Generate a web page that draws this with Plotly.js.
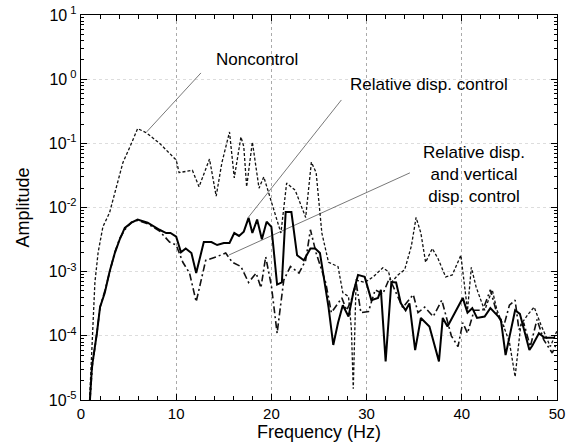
<!DOCTYPE html>
<html>
<head>
<meta charset="utf-8">
<script src="https://cdn.plot.ly/plotly-3.0.1.min.js"></script>
<style>html,body{margin:0;padding:0;background:#fff;}#chart{width:566px;height:443px;}</style>
</head>
<body>
<div id="chart"></div>
<script>
// Noncontrol (dotted)
const nonFreq = [0.9,1.25,1.46,1.8,2.3,3.0,3.7,4.4,5.3,5.95,6.9,8.25,10.0,10.3,11.7,12.4,13.5,14.2,14.8,15.6,16.1,16.8,17.1,17.4,18.0,18.7,19.2,20.3,21.0,21.6,22.5,23.6,24.2,24.7,25.3,26.0,27.0,27.5,28.1,28.4,28.6,28.9,29.8,30.7,31.7,32.3,32.6,33.3,34.0,34.7,35.2,35.7,36.2,36.9,37.5,38.3,39.0,39.9,40.3,40.6,41.0,41.5,42.0,42.4,43.2,43.7,44.4,45.0,45.6,46.2,47.0,47.6,48.3,49.3,50.0];
const nonAmp  = [1e-5,1.8e-4,6.8e-4,2.0e-3,5.0e-3,8.3e-3,2.1e-2,5.0e-2,0.10,0.17,0.145,0.10,0.055,0.035,0.038,0.021,0.057,0.015,0.05,0.15,0.029,0.126,0.089,0.021,0.105,0.02,0.03,0.009,0.004,0.024,0.0186,0.007,0.051,0.035,0.004,0.0014,0.0012,4.7e-4,4.1e-4,1.3e-4,1.5e-5,7.4e-4,6.8e-4,8.3e-4,1.15e-3,1.0e-3,6.8e-4,8.9e-4,1.07e-3,2.5e-3,7.0e-3,4.0e-3,1.4e-3,2.3e-3,1.6e-3,8.3e-4,8.9e-4,1.8e-3,5.2e-4,2.5e-4,1.17e-3,5.8e-4,3.6e-4,2.5e-4,5.2e-4,2.5e-4,1.4e-4,8e-5,2.3e-5,1.5e-4,2.2e-4,2.8e-4,1.5e-4,6.8e-5,1.2e-4];

// Relative disp. control (solid)
const relFreq = [0.94,1.15,1.67,2.0,2.5,3.0,3.55,4.07,4.6,5.3,5.95,7.0,8.25,8.95,9.4,10.0,10.5,11.0,11.6,12.1,12.9,13.7,14.3,15.0,15.6,16.1,16.6,17.1,17.6,18.0,18.5,19.0,19.5,20.0,20.6,21.1,21.5,22.1,22.7,23.4,24.1,24.6,25.1,26.0,26.5,27.0,27.5,28.1,28.6,29.1,29.8,30.5,31.2,31.5,32.0,32.6,33.1,33.6,34.1,34.5,35.1,35.7,36.6,37.6,38.0,38.5,40.1,40.6,41.1,41.6,42.4,43.0,43.7,44.1,44.6,45.1,45.6,46.1,47.1,47.4,48.1,48.7,49.8];
const relAmp  = [1e-5,3.3e-5,1.1e-4,2.8e-4,4.7e-4,1.0e-3,1.95e-3,3.2e-3,4.8e-3,5.8e-3,6.5e-3,5.8e-3,4.5e-3,4.0e-3,4.0e-3,3.5e-3,2.0e-3,2.3e-3,1.95e-3,9.5e-4,2.9e-3,2.9e-3,2.6e-3,2.8e-3,2.8e-3,4.0e-3,3.6e-3,4.2e-3,6.9e-3,4.0e-3,6.5e-3,3.2e-3,6.0e-3,5.0e-3,6.3e-4,6.8e-4,8.5e-3,8.5e-3,1.8e-3,1.5e-3,2.3e-3,2.3e-3,1.95e-3,2.8e-4,7.2e-5,1.6e-4,3.0e-4,2.0e-4,4.7e-4,8.9e-4,8.3e-4,3.6e-4,3.9e-4,5.2e-4,4.0e-5,6.9e-4,6.8e-4,3.2e-4,2.5e-4,3.2e-4,6.0e-5,1.9e-4,1.4e-4,4.0e-5,1.9e-4,1.4e-4,3.9e-4,2.3e-4,2.7e-4,1.9e-4,2.0e-4,2.7e-4,2.1e-4,1.8e-4,5.0e-5,1.15e-4,2.5e-4,2.2e-4,6.0e-5,7e-5,1.1e-4,9.3e-5,9.3e-5];

// Relative disp. and vertical disp. control (dash-dot)
const vertFreq = [0.94,1.2,1.67,2.0,2.5,3.0,3.55,4.07,4.6,5.3,5.95,7.0,8.25,9.3,10.0,10.7,11.4,12.1,12.7,13.1,14.2,15.2,15.9,16.8,17.6,18.4,18.9,19.4,20.0,20.6,21.3,22.0,22.9,23.6,24.1,24.7,25.7,26.3,27.4,27.9,28.4,28.9,29.4,30.2,30.9,31.7,32.4,33.1,33.8,34.9,35.4,36.1,37.0,37.9,38.9,39.6,40.1,40.6,41.3,42.2,43.0,43.7,44.4,45.0,45.6,46.0,46.5,47.2,47.9,48.6,49.5,50.0];
const vertAmp  = [1e-5,3.5e-5,1.1e-4,2.8e-4,5e-4,1.0e-3,2.0e-3,3.3e-3,4.5e-3,5.9e-3,6.3e-3,5.6e-3,4.3e-3,2.9e-3,2.6e-3,1.4e-3,9.5e-4,3.4e-4,8.3e-4,1.5e-3,1.7e-3,1.95e-3,1.4e-3,1.2e-3,6.8e-4,9.5e-4,5.6e-4,1.7e-3,6e-4,1.1e-4,7.4e-4,1.2e-3,9.5e-4,1.5e-3,4.5e-3,1.95e-3,6.8e-4,2.3e-4,3.9e-4,2.5e-4,3.6e-4,6.8e-4,2.3e-4,2.4e-4,5.2e-4,4.5e-4,7.9e-4,4.7e-4,2.75e-4,4.4e-4,2.3e-4,2.8e-4,2.0e-4,3.6e-4,1.0e-4,6.8e-5,1.6e-4,1.1e-4,2.5e-4,2.5e-4,5.2e-4,2.2e-4,1.4e-4,3.0e-4,3.6e-4,1.25e-4,1.6e-4,6.8e-5,1.8e-4,8.7e-5,5.4e-5,8e-5];

// Labels and leader lines
const labelText = ["Noncontrol", "Relative disp. control", "Relative disp.<br>and vertical<br>disp. control"];
const labelX = [18.5, 36.6, 41.3];
const labelY = [0.30, -0.09, -1.48]; // log10 positions
const leadX = [[6.9, 12.6], [17.6, 27.35], [15.55, 34.55]];
const leadY = [[0.151, 1.25], [0.0071, 0.474], [0.00182, 0.0347]];

const xTickVals = [0,10,20,30,40,50];
const yTickVals = [1e-5,1e-4,1e-3,1e-2,1e-1,1,10];
const yTickText = ["10<sup>-5</sup>","10<sup>-4</sup>","10<sup>-3</sup>","10<sup>-2</sup>","10<sup>-1</sup>","10<sup> 0</sup>","10<sup> 1</sup>"];

const FONT = 'Liberation Sans, Arial, Helvetica, sans-serif';
const traces = [];
for (let i = 0; i < leadX.length; i++) {
  traces.push({x: leadX[i], y: leadY[i], mode: 'lines', line: {color: '#555', width: 0.8}, showlegend: false, hoverinfo: 'skip'});
}
traces.push({x: nonFreq, y: nonAmp, mode: 'lines', name: 'Noncontrol', line: {color: '#111', width: 1.3, dash: '3px,2px'}});
traces.push({x: vertFreq, y: vertAmp, mode: 'lines', name: 'Relative disp. and vertical disp. control', line: {color: '#111', width: 1.6, dash: '7px,3px,2px,3px'}});
traces.push({x: relFreq, y: relAmp, mode: 'lines', name: 'Relative disp. control', line: {color: '#000', width: 2}});

const annotations = labelText.map((t, i) => ({
  x: labelX[i], y: labelY[i], xref: 'x', yref: 'y', text: t, showarrow: false,
  font: {family: FONT, size: 17, color: '#000'}, align: 'center'
}));

const layout = {
  width: 566, height: 443,
  margin: {l: 81, r: 9, t: 15, b: 43},
  paper_bgcolor: '#fff', plot_bgcolor: '#fff',
  showlegend: false,
  font: {family: FONT, size: 15, color: '#000'},
  xaxis: {
    range: [0, 50], tickvals: xTickVals, ticks: 'inside', ticklen: 6, tickcolor: '#000',
    showline: true, linecolor: '#000', linewidth: 1.2, mirror: 'ticks',
    showgrid: true, gridcolor: '#aaa', griddash: 'dot', gridwidth: 1, zeroline: false,
    minor: {dtick: 2, ticks: 'inside', ticklen: 4, tickcolor: '#000', showgrid: false},
    title: {text: 'Frequency (Hz)', font: {size: 18}, standoff: 2},
    tickfont: {size: 15}, ticklabeloverflow: 'allow', automargin: false
  },
  yaxis: {
    type: 'log', range: [-5, 1], tickvals: yTickVals, ticktext: yTickText, ticks: 'inside', ticklen: 6, tickcolor: '#000',
    showline: true, linecolor: '#000', linewidth: 1.2, mirror: 'ticks',
    showgrid: true, gridcolor: '#ddd', griddash: 'dot', gridwidth: 1, zeroline: false,
    minor: {dtick: 'D1', ticks: 'inside', ticklen: 3, tickcolor: '#000', showgrid: false},
    title: {text: 'Amplitude', font: {size: 18}, standoff: 14},
    tickfont: {size: 16}, automargin: false
  },
  annotations: annotations
};

Plotly.newPlot('chart', traces, layout, {displayModeBar: false, staticPlot: true});
</script>
</body>
</html>
